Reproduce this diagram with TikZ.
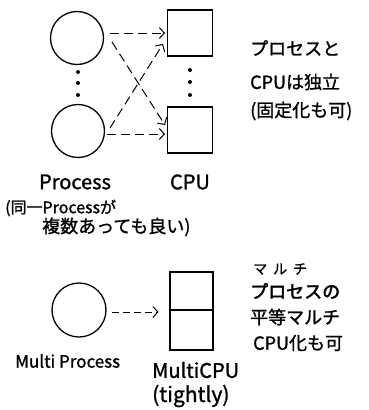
\documentclass[tikz,border=0pt]{standalone}
\usepackage{fontspec}
\setmainfont{Noto Sans CJK JP}[FakeBold=1.2]
\newfontfamily\boldhand{Noto Sans CJK JP}[FakeBold=2.5]
\usetikzlibrary{arrows.meta,calc}
\begin{document}
\begin{tikzpicture}[x=1pt,y=-1pt,
  proc/.style={circle,draw,line width=1.3pt,minimum size=53pt,inner sep=0pt},
  cpu/.style={rectangle,draw,line width=1.4pt,minimum width=45pt,minimum height=46pt,inner sep=0pt},
  dotn/.style={circle,fill,inner sep=0pt,minimum size=4pt},
  dasharr/.style={line width=1pt,dash pattern=on 9pt off 5pt,-{Straight Barb[length=5pt,width=11pt,line width=1pt]}},
  txt/.style={inner sep=0pt,anchor=west,font=\fontsize{18}{20}\selectfont},
  lbl/.style={inner sep=0pt,font=\fontsize{20}{22}\selectfont}]
\useasboundingbox (0,0) rectangle (369,410);
% top part
\node[proc] (p1) at (77,38) {};
\node[proc] (p2) at (78,131) {};
\node[cpu] (c1) at (190,33) {};
\node[cpu] (c2) at (190,130) {};
\node[dotn] (d1) at (78,72) {};
\node[dotn] (d2) at (78,83) {};
\node[dotn] (d3) at (78,95) {};
\node[dotn] (d4) at (190,70) {};
\node[dotn] (d5) at (190,82) {};
\node[dotn] (d6) at (190,95) {};
\draw[dasharr] ($(p1)+(33,-5)$) -- ($(c1)+(-25,0)$);
\draw[dasharr] ($(p2)+(29,3)$) -- ($(c2)+(-25,4)$);
\draw[dasharr] ($(p1)+(35,4)$) -- ($(c2)+(-25,-5)$);
\draw[dasharr] ($(p2)+(32,-3)$) -- ($(c1)+(-27,11)$);
\node[lbl] (tp) at (75,182) {Process};
\node[lbl] (tc) at (190,182) {CPU};
\node[txt,font=\fontsize{16}{18}\selectfont] (n1) at (5,208) {(同一Processが};
\node[txt,font=\fontsize{18}{20}\selectfont] (n2) at (42,227) {複数あっても良い)};
\node[txt] (r1) at (250,48) {プロセスと};
\node[txt] (r2) at (250,82) {CPUは独立};
\node[txt] (r3) at (250,111) {(固定化も可)};
% bottom part
\node[proc,minimum size=54pt] (mp) at (79,310) {};
\node[cpu,minimum width=43pt,minimum height=78pt] (mc) at (191.5,311) {};
\draw[line width=1.4pt] ($(mc.west)+(0,-1)$) -- ($(mc.east)+(0,-1)$);
\draw[dasharr,dash pattern=on 7pt off 4pt] ($(mp)+(33,2)$) -- ($(mc)+(-33,1)$);
\node[txt,font=\fontsize{17}{19}\selectfont] (mpt) at (15,361) {Multi Process};
\node[txt,font=\fontsize{20}{22}\selectfont] (mct) at (152,370) {MultiCPU};
\node[txt,font=\fontsize{21}{23}\selectfont] (mct2) at (152,396) {(tightly)};
\node[txt,font=\fontsize{14}{16}\selectfont] (s0) at (253,269) {マ\hspace{6pt}ル\hspace{6pt}チ};
\node[txt,font=\fontsize{18}{20}\boldhand] (s1) at (250,291) {プロセスの};
\node[txt] (s2) at (250,317) {平等マルチ};
\node[txt] (s3) at (253,343) {CPU化も可};
\end{tikzpicture}
\end{document}
